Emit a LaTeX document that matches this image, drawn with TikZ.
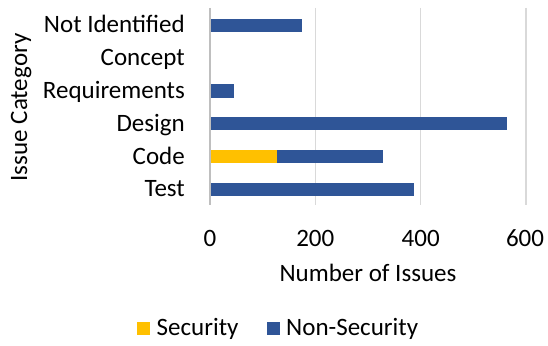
\documentclass[tikz,border=0pt]{standalone}
\usepackage{fontspec}
\setmainfont{Carlito}
\definecolor{secY}{HTML}{FFC000}
\definecolor{nonB}{HTML}{2F5597}
\definecolor{gridG}{HTML}{D9D9D9}
\definecolor{axisG}{HTML}{BFBFBF}
\begin{document}
\begin{tikzpicture}[x=1pt,y=-1pt,
  lbl/.style={font=\fontsize{25}{30}\selectfont, inner sep=0pt},
  gridline/.style={draw=gridG, line width=1.5pt},
  axisline/.style={draw=axisG, line width=1.5pt},
  secbar/.style={fill=secY},
  nonbar/.style={fill=nonB}]
\useasboundingbox (0,0) rectangle (548,345);
% gridlines
\foreach \v in {200,400,600}
  \draw[gridline] ({210+\v*0.52667},8) -- ({210+\v*0.52667},205);
% bars
\foreach \c/\s/\t in {25.3/0/174, 91/1.5/45, 123.7/1.5/563, 156.7/127/329, 189.3/0/388}{
  \fill[secbar] (210,\c-6.7) rectangle ({210+\s*0.52667},\c+6.7);
  \fill[nonbar] ({210+\s*0.52667},\c-6.7) rectangle ({210+\t*0.52667},\c+6.7);
}
% axis
\coordinate (axTop) at (210,8);
\coordinate (axBot) at (210,205);
\draw[axisline] (axTop) -- (axBot);
% category labels
\node[lbl, anchor=base east] (lNI) at (185,32.5) {Not Identified};
\node[lbl, anchor=base east] (lCo) at (185,65.8) {Concept};
\node[lbl, anchor=base east] (lRe) at (185,98.8) {Requirements};
\node[lbl, anchor=base east] (lDe) at (185,131.5) {Design};
\node[lbl, anchor=base east] (lCd) at (185,164.2) {Code};
\node[lbl, anchor=base east] (lTe) at (185,196.8) {Test};
% tick labels
\node[lbl, anchor=base] (t0) at (210,246.7) {0};
\node[lbl, anchor=base] (t200) at (315.3,246.7) {200};
\node[lbl, anchor=base] (t400) at (420.7,246.7) {400};
\node[lbl, anchor=base] (t600) at (525,246.7) {600};
% axis titles
\node[lbl, anchor=base] (xt) at (368,281.7) {Number of Issues};
\node[lbl, anchor=base, rotate=90] (yt) at (27,107.5) {Issue Category};
% legend
\fill[secbar] (136.7,321.7) rectangle (150.3,335.3);
\node[lbl, anchor=base west] (lgS) at (156.5,335.7) {Security};
\fill[nonbar] (266.7,321.7) rectangle (280.3,335.3);
\node[lbl, anchor=base west] (lgN) at (286,335.7) {Non-Security};
\end{tikzpicture}
\end{document}
